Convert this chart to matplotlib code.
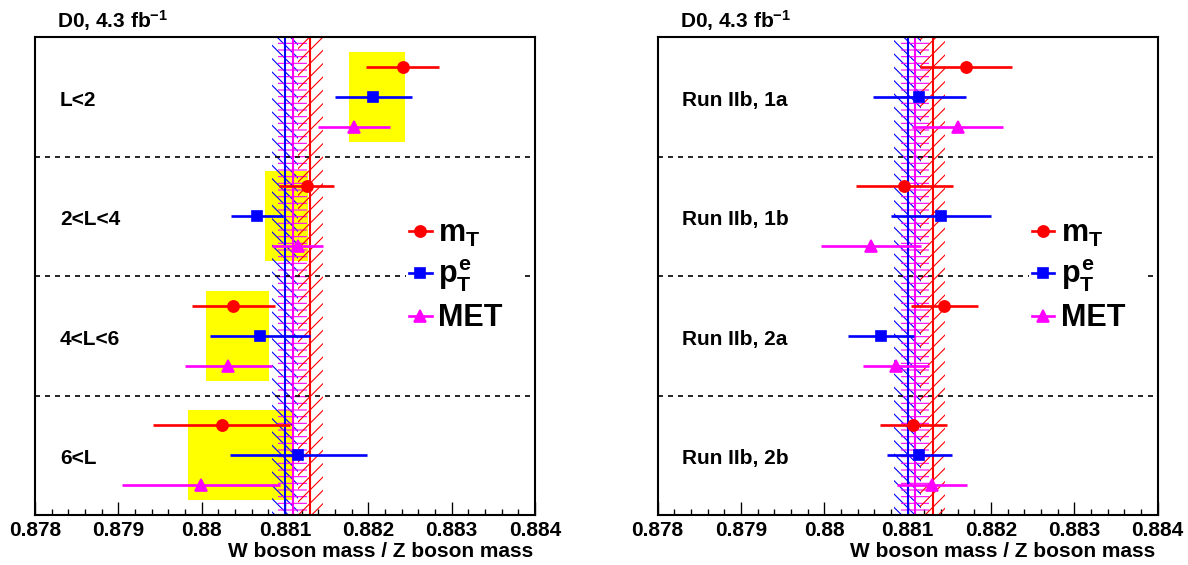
import matplotlib
matplotlib.use("Agg")
import matplotlib.pyplot as plt
from matplotlib.lines import Line2D

plt.rcParams['font.family'] = ['Liberation Sans', 'DejaVu Sans']
plt.rcParams['font.weight'] = 'bold'
plt.rcParams['axes.labelweight'] = 'bold'
plt.rcParams['mathtext.fontset'] = 'custom'
plt.rcParams['mathtext.rm'] = 'Liberation Sans:bold'
plt.rcParams['mathtext.it'] = 'Liberation Sans:bold'
plt.rcParams['mathtext.bf'] = 'Liberation Sans:bold'
plt.rcParams['hatch.linewidth'] = 0.67

# left panel: luminosity bins
rows_left = ["L<2", "2<L<4", "4<L<6", "6<L"]
mt_left = [0.88241, 0.88126, 0.88038, 0.88024]
mt_left_err = [0.00044, 0.00033, 0.00050, 0.00082]
pt_left = [0.88206, 0.88066, 0.88070, 0.88116]
pt_left_err = [0.00046, 0.00031, 0.00060, 0.00082]
met_left = [0.88183, 0.88115, 0.88032, 0.87999]
met_left_err = [0.00043, 0.00031, 0.00052, 0.00095]
box_lo = [0.88177, 0.88076, 0.88005, 0.87983]
box_hi = [0.88244, 0.88128, 0.88081, 0.88108]

# right panel: run periods
rows_right = ["Run IIb, 1a", "Run IIb, 1b", "Run IIb, 2a", "Run IIb, 2b"]
mt_right = [0.88170, 0.88096, 0.88144, 0.88107]
mt_right_err = [0.00055, 0.00058, 0.00040, 0.00040]
pt_right = [0.88114, 0.88140, 0.88068, 0.88114]
pt_right_err = [0.00056, 0.00060, 0.00040, 0.00039]
met_right = [0.88160, 0.88056, 0.88086, 0.88129]
met_right_err = [0.00055, 0.00060, 0.00040, 0.00042]

# combined results (bands)
comb_mt, comb_mt_err = 0.88130, 0.00015
comb_pt, comb_pt_err = 0.88100, 0.00016
comb_met, comb_met_err = 0.88109, 0.00017

RED, BLUE, MAG = "#ff0000", "#0000ff", "#ff00ff"

# figure is drawn at 120 dpi (so hatch spacing matches), sizes in points
FS = 12.5


def draw_panel(ax, rows, mt, mte, pt, pte, met, mete, boxes=None):
    n = len(rows)
    ax.set_xlim(0.878, 0.884)
    ax.set_ylim(0, n)
    tops = [n - i for i in range(n)]

    if boxes is not None:
        for top, lo, hi in zip(tops, boxes[0], boxes[1]):
            ax.fill_between([lo, hi], top - 0.875, top - 0.125,
                            color="#ffff00", lw=0, zorder=1)

    for c, e, col, h in [(comb_pt, comb_pt_err, BLUE, "\\\\\\"),
                         (comb_met, comb_met_err, MAG, "---"),
                         (comb_mt, comb_mt_err, RED, "///")]:
        ax.fill_betweenx([0, n], c - e, c + e, facecolor="none",
                         edgecolor=col, hatch=h, lw=0, zorder=2)
    for c, col in [(comb_pt, BLUE), (comb_met, MAG), (comb_mt, RED)]:
        ax.axvline(c, color=col, lw=1.25, zorder=2.5)

    for k in range(1, n):
        ax.axhline(k, color="black", lw=1.0, ls=(0, (3, 3)), zorder=2.2)

    ax.errorbar(mt, [t - 0.25 for t in tops], xerr=mte, fmt="o", color=RED,
                ms=6.7, lw=1.6, capsize=0, zorder=3)
    ax.errorbar(pt, [t - 0.50 for t in tops], xerr=pte, fmt="s", color=BLUE,
                ms=6.2, lw=1.6, capsize=0, zorder=3)
    ax.errorbar(met, [t - 0.75 for t in tops], xerr=mete, fmt="^", color=MAG,
                ms=6.7, lw=1.6, capsize=0, zorder=3)

    for top, lab in zip(tops, rows):
        ax.text(0.05, (top - 0.53) / n, lab, transform=ax.transAxes,
                fontsize=FS, va="center", ha="left")

    ax.text(0.044, 1.019, "D0, 4.3 fb$^{-1}$", transform=ax.transAxes,
            fontsize=FS, va="baseline", ha="left")

    ax.set_yticks([])
    ax.set_xticks([0.878, 0.879, 0.880, 0.881, 0.882, 0.883, 0.884])
    ax.set_xticklabels(["0.878", "0.879", "0.88", "0.881", "0.882",
                        "0.883", "0.884"])
    ax.set_xticks([0.878 + 0.0002 * i for i in range(31)], minor=True)
    ax.tick_params(axis="x", which="major", direction="in", length=7.9,
                   width=0.8, labelsize=FS, pad=3.3)
    ax.tick_params(axis="x", which="minor", direction="in", length=3.8,
                   width=0.8)
    for s in ax.spines.values():
        s.set_linewidth(1.25)
    ax.set_xlabel("W boson mass / Z boson mass", fontsize=FS, loc="right")
    ax.xaxis.set_label_coords(0.996, -0.056)

    handles = [Line2D([], [], color=RED, marker="o", ms=6.7, lw=1.6),
               Line2D([], [], color=BLUE, marker="s", ms=6.2, lw=1.6),
               Line2D([], [], color=MAG, marker="^", ms=6.7, lw=1.6)]
    leg = ax.legend(handles, ["$m_T$", "$p_T^e$", "MET"], loc="center left",
                    bbox_to_anchor=(0.742, 0.33, 0.234, 0.34), mode="expand",
                    fontsize=18.3, handlelength=0.75, handletextpad=0.2,
                    labelspacing=0.3, borderpad=0.1, borderaxespad=0,
                    frameon=True, fancybox=False)
    leg.get_frame().set_edgecolor("none")
    leg.get_frame().set_facecolor("white")
    leg.get_frame().set_alpha(1)
    leg.set_zorder(5)


fig = plt.figure(figsize=(1188 / 120, 565 / 120), dpi=120)
ax1 = fig.add_axes([35 / 1188, 50 / 565, 500 / 1188, 478 / 565])
ax2 = fig.add_axes([657.5 / 1188, 50 / 565, 500 / 1188, 478 / 565])

draw_panel(ax1, rows_left, mt_left, mt_left_err, pt_left, pt_left_err,
           met_left, met_left_err, boxes=(box_lo, box_hi))
draw_panel(ax2, rows_right, mt_right, mt_right_err, pt_right, pt_right_err,
           met_right, met_right_err)

plt.savefig("out.png", dpi=120)
